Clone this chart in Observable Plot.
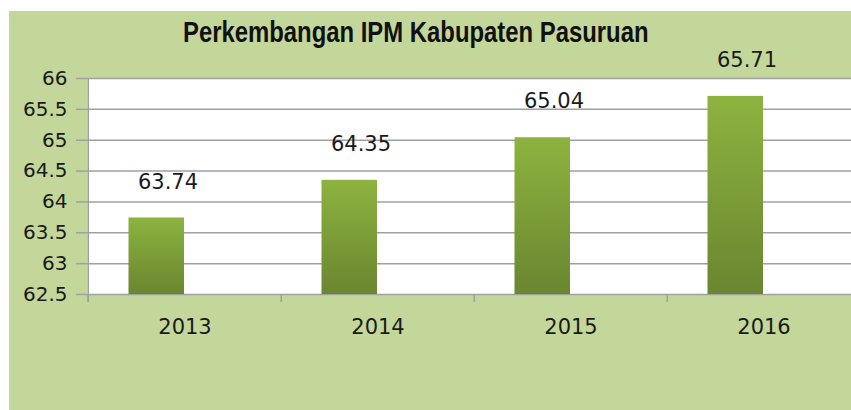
<!DOCTYPE html>
<html>
<head>
<meta charset="utf-8">
<script src="https://cdn.jsdelivr.net/npm/d3@7"></script>
<script src="https://cdn.jsdelivr.net/npm/@observablehq/plot@0.6"></script>
<style>
  html, body { margin: 0; padding: 0; background: #ffffff; }
  #page { position: relative; width: 851px; height: 410px; overflow: hidden; background: #ffffff; }
  #bg { position: absolute; left: 9px; top: 11px; right: 0; bottom: 0; background: #C4D79B; }
  #title { position: absolute; left: 183px; top: 18px; font-family: "Liberation Sans", Arial, sans-serif; font-weight: bold; font-size: 29px; line-height: 29px; color: #111; white-space: nowrap; transform: scaleX(0.823); transform-origin: 0 0; }
  #chart { position: absolute; left: 0; top: 0; }
</style>
</head>
<body>
<div id="page">
  <div id="bg"></div>
  <div id="title"></div>
  <div id="chart"></div>
</div>
<script>
const title = "Perkembangan IPM Kabupaten Pasuruan";
const years = ["2013", "2014", "2015", "2016"];
const ipm = [63.74, 64.35, 65.04, 65.71];
const yTicks = [62.5, 63, 63.5, 64, 64.5, 65, 65.5, 66];

const data = years.map((year, i) => ({year, value: ipm[i]}));

document.getElementById("title").textContent = title;

const W = 851, H = 345, ML = 87, MT = 78, MB = 51, XR = 861;
const bw = (XR - ML) / years.length;
const grid = "#a0a0a0";
const ink = "#1a1a1a";

const chart = Plot.plot({
  width: W,
  height: H,
  marginLeft: ML,
  marginTop: MT,
  marginBottom: MB,
  marginRight: 0,
  style: {background: "transparent", fontFamily: "DejaVu Sans", fontSize: "20px", color: ink, overflow: "visible"},
  x: {type: "band", domain: years, range: [ML, XR], padding: 0},
  y: {domain: [yTicks[0], yTicks[yTicks.length - 1]], range: [H - MB, MT]},
  marks: [
    Plot.frame({fill: "white", stroke: null}),
    Plot.gridY(yTicks, {stroke: grid, strokeOpacity: 1, strokeWidth: 1.5}),
    Plot.ruleX(years, {x: d => d, y1: yTicks[0], y2: yTicks[0], dx: -bw / 2, insetBottom: -8, stroke: grid, strokeWidth: 1.5}),
    Plot.ruleX([years[0]], {x: d => d, dx: -bw / 2, insetBottom: -8, stroke: grid, strokeWidth: 1.5}),
    Plot.barY(data, {x: "year", y1: yTicks[0], y2: "value", fill: "url(#barGrad)", insetLeft: 40.5, insetRight: 97, style: "filter: drop-shadow(1px 1px 1px rgba(0,0,0,0.25))"}),
    Plot.axisY(yTicks, {tickSize: 11, tickPadding: 9, stroke: grid, strokeWidth: 1.5, fill: ink, fontSize: 20, tickFormat: d => String(d), label: null}),
    Plot.axisX({tickSize: 0, tickPadding: 25, fontSize: 21, fill: ink, label: null}),
    Plot.text(data, {x: "year", y: "value", text: d => d.value.toFixed(2), dx: -17, dy: -36, fontSize: 21, fill: ink})
  ]
});

const defs = d3.select(chart).insert("defs", ":first-child");
const g = defs.append("linearGradient").attr("id", "barGrad").attr("x1", 0).attr("y1", 0).attr("x2", 0).attr("y2", 1);
g.append("stop").attr("offset", "0%").attr("stop-color", "#8DB33F");
g.append("stop").attr("offset", "100%").attr("stop-color", "#6A8630");

document.getElementById("chart").appendChild(chart);
</script>
</body>
</html>
